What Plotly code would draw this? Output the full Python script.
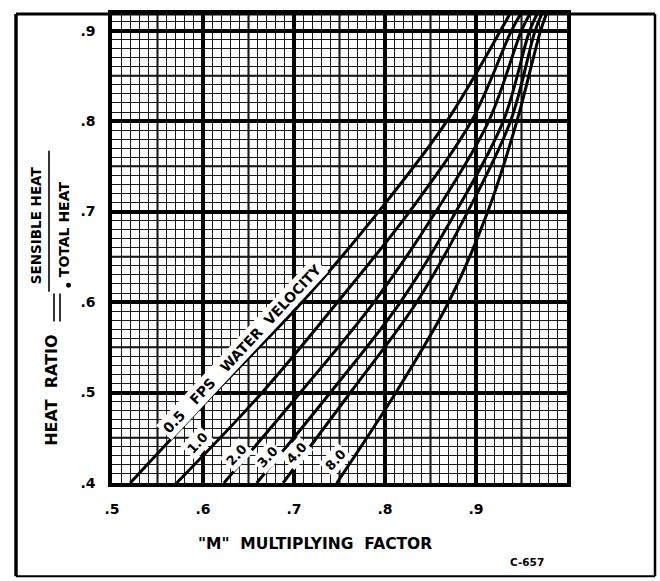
import numpy as np
import plotly.graph_objects as go

# Heat ratio (sensible / total) at which each curve is read
heat_ratio = [0.40, 0.50, 0.60, 0.70, 0.80, 0.90, 0.92]

# "M" multiplying factor for each water velocity (fps)
m_0_5 = [0.520, 0.613, 0.709, 0.793, 0.868, 0.927, 0.938]
m_1_0 = [0.571, 0.665, 0.748, 0.827, 0.895, 0.939, 0.950]
m_2_0 = [0.623, 0.707, 0.788, 0.856, 0.914, 0.950, 0.960]
m_3_0 = [0.659, 0.740, 0.817, 0.878, 0.930, 0.959, 0.968]
m_4_0 = [0.688, 0.762, 0.835, 0.891, 0.938, 0.965, 0.973]
m_8_0 = [0.747, 0.812, 0.870, 0.913, 0.945, 0.971, 0.978]

velocity_labels = ["0.5", "1.0", "2.0", "3.0", "4.0", "8.0"]
curves = [m_0_5, m_1_0, m_2_0, m_3_0, m_4_0, m_8_0]

x_ticks = [0.5, 0.6, 0.7, 0.8, 0.9]
x_tick_text = [".5", ".6", ".7", ".8", ".9"]
y_ticks = [0.4, 0.5, 0.6, 0.7, 0.8, 0.9]
y_tick_text = [".4", ".5", ".6", ".7", ".8", ".9"]

W, H = 660, 581
ML, MR, MT, MB = 112, 93, 10, 98
PW, PH = W - ML - MR, H - MT - MB
X_RANGE = [0.5, 1.0]
Y_RANGE = [0.4, 0.4 + PH / 912.5]

FONT = "DejaVu Sans"


def px_to_paper(px, py):
    return (px - ML) / PW, (H - MB - py) / PH


fig = go.Figure()

for vals, lab in zip(curves, velocity_labels):
    fig.add_trace(go.Scatter(
        x=vals, y=heat_ratio, mode="lines", name=lab,
        line=dict(color="black", width=3, shape="spline", smoothing=1.0),
        showlegend=False, hoverinfo="skip",
    ))

shapes = []
# medium-weight graph-paper rules at the half-tenths
for xv in np.arange(0.55, 1.0, 0.1):
    shapes.append(dict(type="line", xref="x", yref="paper", x0=xv, x1=xv, y0=0, y1=1,
                       line=dict(color="black", width=2), layer="below"))
for yv in np.arange(0.45, 0.92, 0.1):
    shapes.append(dict(type="line", xref="paper", yref="y", x0=0, x1=1, y0=yv, y1=yv,
                       line=dict(color="black", width=2), layer="below"))

# outer frame of the sheet
fx0, fy0 = px_to_paper(16, 577)
fx1, fy1 = px_to_paper(655, 10)
shapes.append(dict(type="line", xref="paper", yref="paper", x0=fx0, x1=fx0, y0=fy0, y1=fy1,
                   line=dict(color="black", width=3.5)))
shapes.append(dict(type="line", xref="paper", yref="paper", x0=fx0, x1=fx1, y0=fy1, y1=fy1,
                   line=dict(color="black", width=3)))
shapes.append(dict(type="line", xref="paper", yref="paper", x0=fx1, x1=fx1, y0=fy0, y1=fy1,
                   line=dict(color="black", width=2.5)))
shapes.append(dict(type="line", xref="paper", yref="paper", x0=fx0, x1=fx1, y0=fy0, y1=fy0,
                   line=dict(color="black", width=2)))

# fraction bar and equals sign of the y-axis title
bx, by0 = px_to_paper(49, 290)
_, by1 = px_to_paper(49, 148)
shapes.append(dict(type="line", xref="paper", yref="paper", x0=bx, x1=bx, y0=by0, y1=by1,
                   line=dict(color="black", width=1.6)))
for ex in (54, 60):
    qx, qy0 = px_to_paper(ex, 320)
    _, qy1 = px_to_paper(ex, 292)
    shapes.append(dict(type="line", xref="paper", yref="paper", x0=qx, x1=qx, y0=qy0, y1=qy1,
                       line=dict(color="black", width=1.6)))
dx0, dy0 = px_to_paper(66, 286)
dx1, dy1 = px_to_paper(71, 281)
shapes.append(dict(type="circle", xref="paper", yref="paper", x0=dx0, x1=dx1, y0=dy0, y1=dy1,
                   fillcolor="black", line=dict(color="black", width=0)))

annotations = []


def paper_text(text, px, py, size, angle=0, anchor="center"):
    ax, ay = px_to_paper(px, py)
    annotations.append(dict(text=text, x=ax, y=ay, xref="paper", yref="paper",
                            showarrow=False, textangle=angle, xanchor=anchor, yanchor="middle",
                            font=dict(family=FONT, size=size, color="black", weight="bold")))


paper_text("HEAT  RATIO", 52, 390, 16, angle=-90)
paper_text("SENSIBLE HEAT", 36, 223, 13.5, angle=-90)
paper_text("TOTAL HEAT", 64, 227, 14, angle=-90)
paper_text('"M"  MULTIPLYING  FACTOR', 315, 545, 15.5)
paper_text("C-657", 527, 563, 10.5)


def curve_label(text, px, py, size=13, angle=-47):
    ax = X_RANGE[0] + (px - ML) / PW * (X_RANGE[1] - X_RANGE[0])
    ay = Y_RANGE[0] + (H - MB - py) / PH * (Y_RANGE[1] - Y_RANGE[0])
    annotations.append(dict(text=text, x=ax, y=ay, xref="x", yref="y", showarrow=False,
                            textangle=angle, bgcolor="white", borderpad=2,
                            font=dict(family=FONT, size=size, color="black", weight="bold")))


curve_label("0.5   FPS   WATER  VELOCITY", 242, 348, size=14)
curve_label("1.0", 197, 443)
curve_label("2.0", 236, 455)
curve_label("3.0", 267, 457)
curve_label("4.0", 296, 453)
curve_label("8.0", 335, 460)

axis_common = dict(
    showgrid=True, gridcolor="black", gridwidth=3.5,
    zeroline=False, showline=True, mirror=True, linecolor="black", linewidth=3.5,
    ticks="", tickfont=dict(family=FONT, size=14, color="black", weight="bold"),
)

fig.update_layout(
    width=W, height=H,
    margin=dict(l=ML, r=MR, t=MT, b=MB),
    plot_bgcolor="white", paper_bgcolor="white",
    xaxis=dict(range=X_RANGE, tickvals=x_ticks, ticktext=x_tick_text,
               ticklabelstandoff=10,
               minor=dict(dtick=0.01, tick0=0.5, showgrid=True, gridcolor="#1a1a1a", gridwidth=1),
               **axis_common),
    yaxis=dict(range=Y_RANGE, tickvals=y_ticks, ticktext=y_tick_text,
               ticklabelstandoff=10,
               minor=dict(dtick=0.01, tick0=0.4, showgrid=True, gridcolor="#1a1a1a", gridwidth=1),
               **axis_common),
    shapes=shapes,
    annotations=annotations,
)

fig.write_html("out.html")
